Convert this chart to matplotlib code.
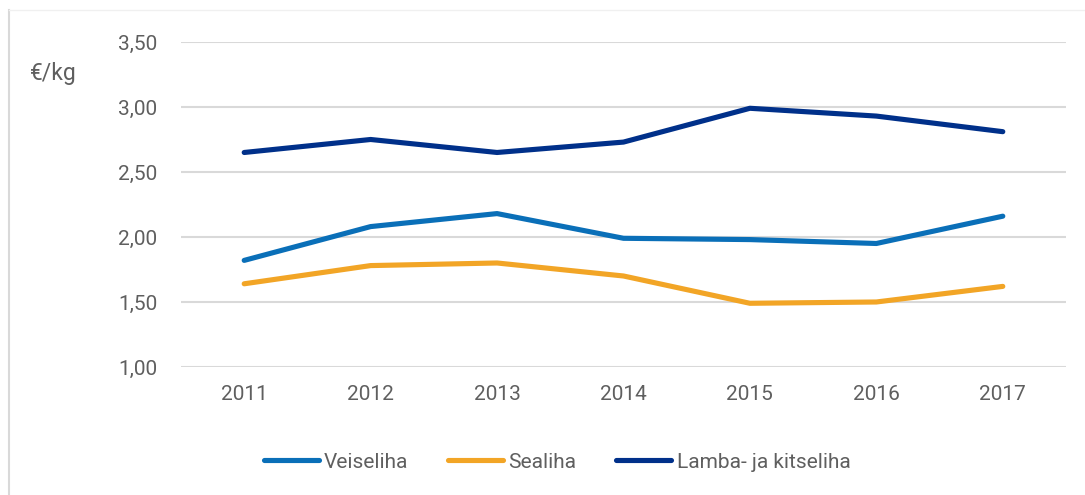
import matplotlib.pyplot as plt
from matplotlib.lines import Line2D

plt.rcParams['font.family'] = ['Roboto', 'DejaVu Sans']

#Data
years = ['2011', '2012', '2013', '2014', '2015', '2016', '2017']
veiseliha = [1.82, 2.08, 2.18, 1.99, 1.98, 1.95, 2.16]
sealiha = [1.64, 1.78, 1.80, 1.70, 1.49, 1.50, 1.62]
lamba = [2.65, 2.75, 2.65, 2.73, 2.99, 2.93, 2.81]
yticks = [1.0, 1.5, 2.0, 2.5, 3.0, 3.5]

text_color = '#5f5f5f'
grid_color = '#d9d9d9'
fs = 15

fig = plt.figure(figsize=(10.85, 4.95), dpi=100)
ax = fig.add_axes([0.1668, 0.2586, 0.8157, 0.6566])

x = list(range(len(years)))
ax.plot(x, veiseliha, color='#0a6fb8', lw=3.7, solid_capstyle='round', label='Veiseliha')
ax.plot(x, sealiha, color='#f2a526', lw=3.7, solid_capstyle='round', label='Sealiha')
ax.plot(x, lamba, color='#00308a', lw=3.7, solid_capstyle='round', label='Lamba- ja kitseliha')

#Axes
ax.set_xlim(-0.5, len(years) - 0.5)
ax.set_ylim(1.0, 3.5)
ax.set_yticks(yticks)
ax.set_yticklabels([('%.2f' % v).replace('.', ',') for v in yticks])
ax.set_xticks(x)
ax.set_xticklabels(years)
ax.tick_params(axis='both', length=0, labelsize=fs, labelcolor=text_color)
ax.tick_params(axis='y', pad=17)
ax.tick_params(axis='x', pad=13)
ax.grid(axis='y', color=grid_color, lw=1.5)
ax.set_axisbelow(True)
for s in ax.spines.values():
    s.set_visible(False)

fig.text(30 / 1085, 1 - 73 / 495, '€/kg', fontsize=16.5, color=text_color,
         va='center', ha='left')

leg = fig.legend(loc='center', bbox_to_anchor=(557 / 1085, 1 - 462 / 495), ncol=3,
                 frameon=False, fontsize=fs, handlelength=2.65, handletextpad=0.25,
                 columnspacing=1.9)
for t in leg.get_texts():
    t.set_color(text_color)
for h in leg.legend_handles:
    h.set_solid_capstyle('round')

#Outer frame (left and top edges visible)
fig.add_artist(Line2D([9 / 1085, 9 / 1085], [0, 1 - 10 / 495], color='#d9d9d9', lw=1.5))
fig.add_artist(Line2D([9 / 1085, 1], [1 - 10 / 495, 1 - 10 / 495], color='#f0f0f0', lw=1.0))

fig.savefig('out.png', dpi=100)
